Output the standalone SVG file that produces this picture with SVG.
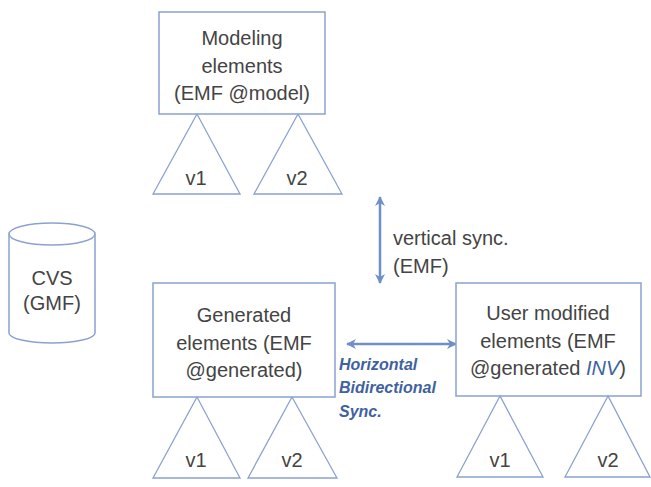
<svg xmlns="http://www.w3.org/2000/svg" width="651" height="487" viewBox="0 0 651 487">
<style>
.box{fill:#fff;stroke:#8ba2cf;stroke-width:1.5}
.tri{fill:#fff;stroke:#8ba2cf;stroke-width:1.3}
.t{font-family:"Liberation Sans",Arial,sans-serif;font-size:20px;fill:#444;text-anchor:middle}
.tl{font-family:"Liberation Sans",Arial,sans-serif;font-size:20px;fill:#444}
.blue{font-family:"Liberation Sans",Arial,sans-serif;font-size:16px;font-weight:bold;font-style:italic;fill:#3f62a0}
.conn{stroke:#6f8fc6;stroke-width:2.5;fill:none}
</style>
<defs>
<marker id="ah" viewBox="0 0 10 10" refX="9" refY="5" markerWidth="4" markerHeight="4" orient="auto-start-reverse" markerUnits="strokeWidth">
<path d="M0,0 L10,5 L0,10 L3,5 Z" fill="#6f8fc6"/>
</marker>
</defs>
<rect width="651" height="487" fill="#fff"/>
<g id="connectors">
<line class="conn" x1="380" y1="197" x2="380" y2="283" marker-start="url(#ah)" marker-end="url(#ah)"/>
<line class="conn" x1="347" y1="344" x2="456" y2="344" marker-start="url(#ah)" marker-end="url(#ah)"/>
</g>
<g id="modeling">
<rect class="box" x="159" y="12" width="166" height="102"/>
<text class="t" x="242" y="45">Modeling</text>
<text class="t" x="242" y="73">elements</text>
<text class="t" x="242" y="100">(EMF @model)</text>
</g>
<g id="modeling-v1">
<polygon class="tri" points="197,114 153,194 240,194"/>
<text class="t" x="196" y="185">v1</text>
</g>
<g id="modeling-v2">
<polygon class="tri" points="298,114 254,194 342,194"/>
<text class="t" x="297" y="185">v2</text>
</g>
<g id="cvs">
<path class="box" d="M9,234 L9,333 A43,10 0 0 0 95,333 L95,234"/>
<ellipse class="box" cx="52" cy="234" rx="43" ry="11"/>
<text class="t" x="52" y="285">CVS</text>
<text class="t" x="52" y="310">(GMF)</text>
</g>
<g id="generated">
<rect class="box" x="153" y="283" width="182" height="114"/>
<text class="t" x="244" y="322">Generated</text>
<text class="t" x="244" y="350">elements (EMF</text>
<text class="t" x="244" y="377">@generated)</text>
</g>
<g id="generated-v1">
<polygon class="tri" points="197,397 153,478 240,478"/>
<text class="t" x="196" y="467">v1</text>
</g>
<g id="generated-v2">
<polygon class="tri" points="292,397 248,478 337,478"/>
<text class="t" x="292" y="467">v2</text>
</g>
<g id="user">
<rect class="box" x="456" y="283" width="185" height="113"/>
<text class="t" x="548" y="320">User modified</text>
<text class="t" x="548" y="348">elements (EMF</text>
<text class="t" x="548" y="375">@generated <tspan font-style="italic" fill="#3f62a0">INV</tspan>)</text>
</g>
<g id="user-v1">
<polygon class="tri" points="500,396 457,477 543,477"/>
<text class="t" x="500" y="467">v1</text>
</g>
<g id="user-v2">
<polygon class="tri" points="608,396 565,477 650,477"/>
<text class="t" x="608" y="467">v2</text>
</g>
<g id="labels">
<text class="tl" x="393" y="245">vertical sync.</text>
<text class="tl" x="393" y="273">(EMF)</text>
<text class="blue" x="339" y="370">Horizontal</text>
<text class="blue" x="339" y="393">Bidirectional</text>
<text class="blue" x="339" y="417">Sync.</text>
</g>
</svg>
